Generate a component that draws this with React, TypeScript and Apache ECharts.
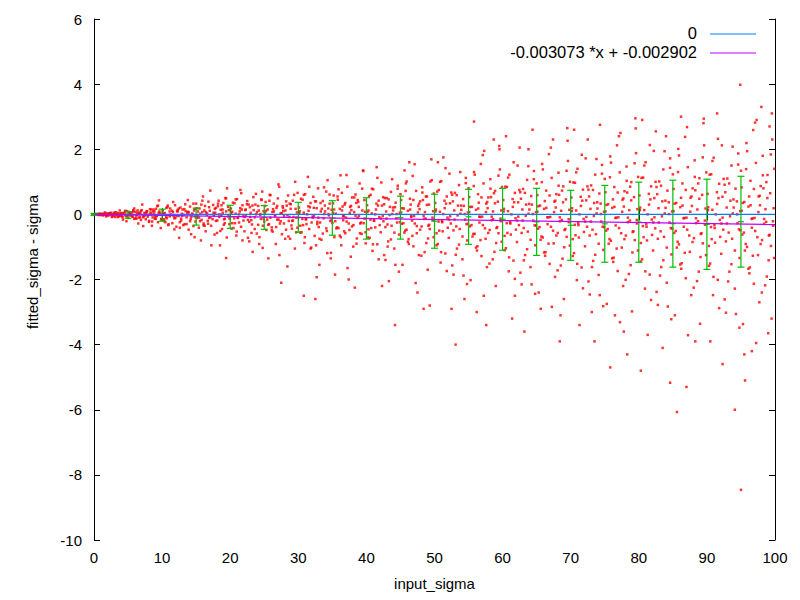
import React, { useEffect, useRef } from "react";
import * as echarts from "echarts";

// scatter points, flat [x, y, x, y, ...] per 10-unit band of input_sigma
const seg00 = [
  0.1,0.00, 0.3,-0.01, 0.5,0.01, 0.7,-0.02, 0.9,0.01, 0.6,0.00,
  1.1,0.02, 1.3,-0.03, 1.5,0.01, 1.7,-0.01, 1.9,0.03, 1.4,-0.02,
  2.1,-0.04, 2.3,0.03, 2.6,0.01, 2.8,-0.06, 2.9,0.05, 2.4,-0.01,
  3.1,0.06, 3.3,-0.02, 3.5,-0.08, 3.6,0.03, 3.8,0.01, 3.9,-0.05,
  4.1,0.04, 4.2,-0.09, 4.5,0.07, 4.6,-0.02, 4.8,0.10, 4.9,-0.06,
  5.0,-0.11, 5.2,0.05, 5.4,0.01, 5.7,-0.07, 5.8,0.09, 5.9,-0.14,
  6.1,0.08, 6.2,-0.04, 6.4,0.12, 6.6,-0.10, 6.8,0.02, 6.9,-0.17,
  7.0,0.13, 7.3,-0.06, 7.4,0.04, 7.6,-0.15, 7.8,0.10, 7.9,-0.02,
  8.1,-0.20, 8.3,0.06, 8.4,0.15, 8.6,-0.09, 8.8,0.01, 8.9,-0.13,
  9.1,0.17, 9.2,-0.05, 9.4,-0.24, 9.6,0.09, 9.7,0.03, 9.9,-0.16,
  8.5,-0.35, 9.8,-0.42, 6.5,-0.28, 9.3,0.25,
  0.2,0.01, 0.8,-0.01, 1.2,0.00, 1.8,-0.03, 2.2,0.02, 2.7,-0.03, 3.2,0.00, 3.7,-0.04,
  4.3,0.02, 4.7,-0.05, 5.3,-0.03, 5.6,0.06, 6.3,0.00, 6.7,0.05, 7.2,-0.09, 7.7,0.06,
  8.2,0.00, 8.7,0.09, 9.0,-0.08, 9.5,0.05,
  0.15,0.00, 0.48,-0.01, 0.81,0.02, 1.14,0.00, 1.47,0.02, 1.80,-0.06, 2.13,0.00, 2.46,0.05, 2.79,-0.02, 3.12,-0.08,
  3.45,0.03, 3.78,0.12, 4.11,-0.05, 4.44,0.02, 4.77,-0.21, 5.10,0.08, 5.43,-0.02, 5.76,0.13, 6.09,-0.12, 6.42,0.05,
  6.75,-0.09, 7.08,0.30, 7.41,-0.04, 7.74,0.09, 8.07,-0.23, 8.40,0.02, 8.73,0.15, 9.06,-0.14, 9.39,0.27, 9.72,-0.01,
  0.30,0.00, 0.63,0.01, 0.96,-0.02, 1.29,0.01, 1.62,0.06, 1.95,-0.01, 2.28,0.03, 2.61,-0.08, 2.94,0.00, 3.27,0.06,
  3.60,-0.06, 3.93,0.03, 4.26,-0.16, 4.59,0.11, 4.92,-0.01, 5.25,0.04, 5.58,-0.06, 5.91,0.18, 6.24,-0.13, 6.57,0.01,
  6.90,0.10, 7.23,-0.36, 7.56,0.04, 7.89,-0.07, 8.22,0.16, 8.55,-0.22, 8.88,0.09, 9.21,-0.04, 9.54,0.43, 9.87,-0.14,
];
const seg10 = [
  10.1,0.12, 10.3,-0.21, 10.4,0.04, 10.6,-0.08, 10.8,0.22, 10.9,-0.33,
  11.0,-0.02, 11.2,0.18, 11.5,-0.27, 11.6,0.07, 11.8,-0.12, 11.9,0.28,
  12.1,-0.38, 12.2,0.10, 12.4,-0.05, 12.7,0.21, 12.8,-0.19, 12.9,0.02,
  13.0,0.15, 13.3,-0.30, 13.4,0.31, 13.6,-0.09, 13.7,0.05, 13.9,-0.47,
  14.1,0.24, 14.2,-0.14, 14.4,0.01, 14.6,-0.36, 14.7,0.12, 14.9,-0.22,
  15.0,0.33, 15.2,-0.06, 15.4,-0.41, 15.5,0.18, 15.8,-0.17, 15.9,0.07,
  16.1,-0.28, 16.3,0.26, 16.4,-0.52, 16.6,0.03, 16.8,0.39, 16.9,-0.11,
  17.0,0.11, 17.2,-0.35, 17.5,0.29, 17.6,-0.04, 17.7,-0.62, 17.9,0.20,
  18.1,-0.19, 18.3,0.42, 18.4,-0.08, 18.6,0.14, 18.8,-0.45, 18.9,0.05,
  19.0,0.35, 19.2,-0.27, 19.4,0.09, 19.5,-0.71, 19.7,0.23, 19.9,-0.13,
  12.5,-0.72, 16.0,0.55, 18.5,-0.95, 19.3,0.50, 15.7,-0.80, 19.4,-1.34,
  10.2,0.00, 10.7,-0.12, 11.1,0.09, 11.7,-0.05, 12.3,0.14, 12.6,-0.24, 13.1,-0.01, 13.8,0.08,
  14.3,-0.07, 14.8,0.17, 15.1,-0.11, 15.6,0.02, 16.2,0.12, 16.7,-0.20, 17.1,-0.09, 17.8,0.05,
  18.2,0.25, 18.7,-0.02, 19.1,-0.15, 19.8,0.13,
];
const seg20 = [
  20.1,0.18, 20.2,-0.44, 20.4,0.36, 20.6,-0.12, 20.8,0.02, 20.9,-0.65,
  21.0,0.47, 21.3,-0.25, 21.4,0.09, 21.6,-0.38, 21.8,0.28, 21.9,-0.06,
  22.1,-0.52, 22.2,0.13, 22.5,0.41, 22.6,-0.17, 22.8,-0.83, 22.9,0.22,
  23.0,0.05, 23.2,-0.31, 23.4,0.53, 23.6,-0.09, 23.7,0.30, 23.9,-0.59,
  24.1,0.26, 24.3,-0.70, 24.4,-0.02, 24.6,0.44, 24.8,-0.35, 24.9,0.10,
  25.0,-0.22, 25.2,0.38, 25.3,-0.48, 25.5,0.15, 25.8,0.60, 25.9,-0.10,
  26.1,-0.40, 26.2,0.07, 26.4,0.33, 26.7,-0.91, 26.8,0.20, 26.9,-0.16,
  27.0,0.49, 27.3,-0.28, 27.4,0.03, 27.6,-0.61, 27.7,0.25, 27.9,-0.05,
  28.1,0.12, 28.2,-0.47, 28.5,0.58, 28.6,-0.20, 28.8,-0.75, 28.9,0.31,
  29.0,-0.34, 29.2,0.42, 29.3,-0.08, 29.6,0.17, 29.7,-0.55, 29.9,0.66,
  21.5,0.75, 23.3,-1.15, 25.6,-1.35, 27.2,0.85, 28.4,-1.60, 29.5,-1.05, 24.7,0.70, 27.5,-2.10,
  20.3,0.08, 20.7,-0.27, 21.1,-0.10, 21.7,0.15, 22.3,-0.03, 22.7,0.30, 23.1,-0.18, 23.8,0.00,
  24.2,0.12, 24.5,-0.14, 25.1,0.04, 25.7,-0.30, 26.3,0.16, 26.6,-0.04, 27.1,-0.16, 27.8,0.10,
  28.3,0.27, 28.7,-0.08, 29.1,-0.20, 29.8,0.06,
];
const seg30 = [
  30.1,0.21, 30.3,-0.56, 30.4,0.48, 30.6,-0.14, 30.8,0.05, 30.9,-0.88,
  31.0,0.62, 31.2,-0.30, 31.5,0.11, 31.6,-0.45, 31.8,0.35, 31.9,-1.02,
  32.1,-0.07, 32.2,0.54, 32.4,-0.66, 32.7,0.19, 32.8,-0.23, 32.9,0.80,
  33.0,-0.39, 33.3,0.09, 33.4,-0.78, 33.6,0.41, 33.7,-0.12, 33.9,0.27,
  34.1,0.70, 34.2,-0.51, 34.5,-0.03, 34.6,0.33, 34.8,-1.18, 34.9,0.14,
  35.0,-0.26, 35.2,0.58, 35.3,-0.70, 35.5,0.02, 35.8,0.45, 35.9,-0.42,
  36.1,0.17, 36.3,-0.95, 36.4,0.66, 36.6,-0.18, 36.8,0.30, 36.9,-0.58,
  37.0,-0.10, 37.2,0.85, 37.5,-0.48, 37.6,0.23, 37.7,-1.30, 37.9,0.52,
  38.1,-0.33, 38.2,0.07, 38.4,0.61, 38.6,-0.74, 38.8,0.38, 38.9,-0.05,
  39.0,0.95, 39.3,-0.60, 39.4,0.12, 39.6,-0.27, 39.7,0.44, 39.9,-0.89,
  31.4,1.15, 33.1,-1.55, 35.4,-1.85, 36.2,1.20, 38.3,-2.25, 39.5,1.35, 32.5,-2.60, 37.4,-2.00, 34.3,1.05, 32.7,-1.93, 30.8,-2.50,
  30.2,0.10, 30.7,-0.33, 31.1,-0.15, 31.7,0.22, 32.3,-0.04, 32.6,0.40, 33.2,-0.25, 33.8,0.01,
  34.4,0.18, 34.7,-0.20, 35.1,0.05, 35.7,-0.40, 36.5,0.24, 36.7,-0.06, 37.1,-0.22, 37.8,0.13,
  38.5,0.35, 38.7,-0.11, 39.1,-0.28, 39.8,0.08,
];
const seg40 = [
  40.1,0.28, 40.2,-0.71, 40.4,0.56, 40.6,-0.16, 40.8,0.03, 40.9,-1.12,
  41.0,0.77, 41.3,-0.40, 41.4,0.15, 41.6,-0.92, 41.8,0.42, 41.9,-0.08,
  42.1,-0.55, 42.2,0.98, 42.5,-0.21, 42.6,0.31, 42.8,-1.40, 42.9,0.09,
  43.0,0.50, 43.2,-0.83, 43.4,-0.02, 43.6,0.69, 43.7,-0.35, 43.9,0.21,
  44.1,-1.05, 44.3,0.36, 44.4,-0.12, 44.6,0.88, 44.8,-0.62, 44.9,0.05,
  45.0,0.62, 45.2,-0.29, 45.3,-1.55, 45.5,0.18, 45.8,0.95, 45.9,-0.47,
  46.1,0.11, 46.2,-0.76, 46.4,0.48, 46.7,-0.19, 46.8,1.18, 46.9,-0.98,
  47.0,-0.05, 47.3,0.72, 47.4,-0.58, 47.6,0.26, 47.7,-1.25, 47.9,0.40,
  48.1,-0.37, 48.2,0.83, 48.5,-0.14, 48.6,0.07, 48.8,-0.88, 48.9,0.55,
  49.0,-1.70, 49.2,0.30, 49.3,-0.45, 49.6,1.05, 49.7,-0.10, 49.9,0.64,
  41.5,1.45, 43.3,-2.05, 44.2,-3.40, 46.3,1.60, 47.5,-2.40, 48.4,-2.90, 42.3,-2.20, 45.6,1.35, 49.3,-2.80,
  40.3,0.12, 40.7,-0.42, 41.1,-0.18, 41.7,0.27, 42.4,-0.05, 42.7,0.50, 43.1,-0.31, 43.8,0.01,
  44.2,0.22, 44.5,-0.25, 45.1,0.06, 45.7,-0.50, 46.5,0.30, 46.6,-0.07, 47.1,-0.28, 47.8,0.16,
  48.3,0.44, 48.7,-0.13, 49.1,-0.35, 49.8,0.10,
];
const seg50 = [
  50.1,0.35, 50.3,-0.95, 50.4,0.70, 50.6,-0.22, 50.8,0.08, 50.9,-1.48,
  51.0,1.02, 51.2,-0.52, 51.5,0.19, 51.6,-1.20, 51.8,0.55, 51.9,-0.10,
  52.1,-0.72, 52.2,1.25, 52.4,-0.28, 52.7,0.40, 52.8,-1.85, 52.9,0.12,
  53.0,0.66, 53.3,-1.05, 53.4,-0.03, 53.6,0.90, 53.7,-0.45, 53.9,0.27,
  54.1,-1.38, 54.2,0.47, 54.5,-0.16, 54.6,1.12, 54.8,-0.80, 54.9,0.06,
  55.0,0.80, 55.2,-0.37, 55.3,-2.02, 55.5,0.23, 55.8,1.30, 55.9,-0.60,
  56.1,0.14, 56.3,-0.98, 56.4,0.62, 56.6,-0.25, 56.8,1.55, 56.9,-1.28,
  57.0,-0.07, 57.2,0.95, 57.5,-0.75, 57.6,0.33, 57.7,-1.62, 57.9,0.52,
  58.1,-0.48, 58.2,1.08, 58.4,-0.18, 58.6,0.09, 58.8,-1.15, 58.9,0.72,
  59.0,-2.20, 59.3,0.39, 59.4,-0.58, 59.6,1.38, 59.7,-0.13, 59.9,0.84,
  53.1,-4.00, 55.8,2.85, 51.3,1.75, 54.4,-2.60, 56.2,-3.00, 57.3,1.95, 57.6,-3.40, 59.5,2.10, 52.5,-2.90, 50.5,1.60, 58.7,2.30,
  50.2,0.15, 50.7,-0.50, 51.1,-0.21, 51.7,0.33, 52.3,-0.06, 52.6,0.60, 53.2,-0.37, 53.8,0.02,
  54.3,0.26, 54.7,-0.30, 55.1,0.07, 55.7,-0.60, 56.5,0.36, 56.7,-0.08, 57.1,-0.33, 57.8,0.19,
  58.3,0.53, 58.6,-0.15, 59.1,-0.42, 59.8,0.12,
];
const seg60 = [
  60.1,0.44, 60.3,-1.10, 60.4,0.85, 60.6,-0.27, 60.8,0.10, 60.9,-1.75,
  61.0,1.22, 61.2,-0.62, 61.5,0.23, 61.6,-1.42, 61.8,0.66, 61.9,-0.12,
  62.1,-0.85, 62.2,1.50, 62.4,-0.33, 62.7,0.48, 62.8,-2.15, 62.9,0.15,
  63.0,0.78, 63.3,-1.25, 63.4,-0.04, 63.6,1.06, 63.7,-0.53, 63.9,0.32,
  64.1,-1.62, 64.2,0.56, 64.5,-0.19, 64.6,1.33, 64.8,-0.95, 64.9,0.07,
  65.0,0.95, 65.2,-0.44, 65.3,-2.40, 65.5,0.27, 65.8,1.55, 65.9,-0.71,
  66.1,0.17, 66.3,-1.16, 66.4,0.73, 66.6,-0.30, 66.8,1.85, 66.9,-1.52,
  67.0,-0.08, 67.2,1.12, 67.5,-0.89, 67.6,0.39, 67.7,-1.92, 67.9,0.62,
  68.1,-0.57, 68.2,1.28, 68.4,-0.21, 68.6,0.11, 68.8,-1.36, 68.9,0.86,
  69.0,-2.60, 69.3,0.46, 69.4,-0.69, 69.6,1.64, 69.7,-0.15, 69.9,1.00,
  60.5,2.40, 61.4,-3.20, 62.5,2.05, 63.2,-3.60, 64.4,2.60, 65.6,-2.90, 68.4,-3.90, 67.4,2.30, 68.5,-3.10, 69.5,2.65, 61.8,-2.50, 63.8,2.00,
  60.2,0.17, 60.7,-0.57, 61.1,-0.24, 61.7,0.37, 62.3,-0.07, 62.6,0.68, 63.1,-0.42, 63.8,0.02,
  64.3,0.30, 64.7,-0.34, 65.1,0.08, 65.7,-0.68, 66.2,0.41, 66.7,-0.09, 67.1,-0.38, 67.8,0.21,
  68.3,0.60, 68.7,-0.17, 69.1,-0.48, 69.8,0.14,
];
const seg70 = [
  70.1,0.52, 70.3,-1.28, 70.4,0.98, 70.6,-0.32, 70.8,0.12, 70.9,-2.02,
  71.0,1.40, 71.2,-0.71, 71.5,0.26, 71.6,-1.63, 71.8,0.76, 71.9,-0.14,
  72.1,-0.98, 72.2,1.72, 72.4,-0.38, 72.7,0.55, 72.8,-2.46, 72.9,0.17,
  73.0,0.89, 73.3,-1.43, 73.4,-0.05, 73.6,1.22, 73.7,-0.61, 73.9,0.37,
  74.1,-1.86, 74.2,0.64, 74.5,-0.22, 74.6,1.52, 74.8,-1.09, 74.9,0.08,
  75.0,1.09, 75.2,-0.50, 75.3,-2.75, 75.5,0.31, 75.8,1.78, 75.9,-0.81,
  76.1,0.20, 76.3,-1.33, 76.4,0.84, 76.6,-0.34, 76.8,2.12, 76.9,-1.74,
  77.0,-0.09, 77.2,1.29, 77.5,-1.02, 77.6,0.45, 77.7,-2.20, 77.9,0.71,
  78.1,-0.65, 78.2,1.47, 78.4,-0.24, 78.6,0.13, 78.8,-1.56, 78.9,0.99,
  79.0,-2.98, 79.3,0.53, 79.4,-0.79, 79.6,1.88, 79.7,-0.17, 79.9,1.15,
  75.8,-4.70, 70.5,2.60, 71.3,-3.40, 72.5,2.30, 73.5,-3.90, 74.3,2.75, 76.5,-3.10, 77.3,2.50, 78.3,-4.30, 79.5,2.95, 73.1,-3.00, 77.8,-3.60,
  70.2,0.19, 70.7,-0.64, 71.1,-0.27, 71.7,0.42, 72.3,-0.08, 72.6,0.76, 73.2,-0.47, 73.8,0.03,
  74.4,0.33, 74.7,-0.38, 75.1,0.09, 75.7,-0.76, 76.2,0.46, 76.7,-0.10, 77.1,-0.42, 77.8,0.24,
  78.3,0.67, 78.7,-0.19, 79.1,-0.54, 79.8,0.16,
];
const seg80 = [
  80.1,0.58, 80.3,-1.45, 80.4,1.12, 80.6,-0.36, 80.8,0.13, 80.9,-2.28,
  81.0,1.60, 81.2,-0.80, 81.5,0.30, 81.6,-1.85, 81.8,0.86, 81.9,-0.16,
  82.1,-1.11, 82.2,1.95, 82.4,-0.43, 82.7,0.62, 82.8,-2.78, 82.9,0.19,
  83.0,1.01, 83.3,-1.62, 83.4,-0.06, 83.6,1.38, 83.7,-0.69, 83.9,0.42,
  84.1,-2.10, 84.2,0.73, 84.5,-0.25, 84.6,1.72, 84.8,-1.23, 84.9,0.09,
  85.0,1.23, 85.2,-0.57, 85.3,-3.10, 85.5,0.35, 85.8,2.01, 85.9,-0.92,
  86.1,0.22, 86.3,-1.50, 86.4,0.95, 86.6,-0.38, 86.8,2.38, 86.9,-1.96,
  87.0,-0.10, 87.2,1.45, 87.5,-1.15, 87.6,0.51, 87.7,-2.48, 87.9,0.80,
  88.1,-0.73, 88.2,1.66, 88.4,-0.27, 88.6,0.15, 88.8,-1.76, 88.9,1.11,
  89.0,-3.36, 89.3,0.60, 89.4,-0.89, 89.6,2.12, 89.7,-0.19, 89.9,1.29,
  85.6,-6.07, 84.6,-5.17, 87.0,-5.30, 80.5,2.90, 81.3,-3.70, 82.5,2.55, 83.5,-4.10, 86.2,3.00, 88.3,-3.90, 89.5,2.80, 80.3,-4.80, 84.0,2.40,
  80.2,0.21, 80.7,-0.70, 81.1,-0.30, 81.7,0.46, 82.3,-0.09, 82.6,0.84, 83.2,-0.52, 83.8,0.03,
  84.4,0.37, 84.7,-0.42, 85.1,0.10, 85.7,-0.84, 86.2,0.51, 86.7,-0.11, 87.1,-0.47, 87.8,0.26,
  88.3,0.74, 88.7,-0.21, 89.1,-0.60, 89.8,0.18,
];
const seg90 = [
  90.1,0.63, 90.3,-1.58, 90.4,1.22, 90.6,-0.39, 90.8,0.14, 90.9,-2.48,
  91.0,1.74, 91.2,-0.87, 91.5,0.32, 91.6,-2.01, 91.8,0.94, 91.9,-0.17,
  92.1,-1.21, 92.2,2.12, 92.4,-0.47, 92.7,0.68, 92.8,-3.02, 92.9,0.21,
  93.0,1.10, 93.3,-1.76, 93.4,-0.06, 93.6,1.50, 93.7,-0.75, 93.9,0.46,
  94.1,-2.28, 94.2,0.79, 94.5,-0.27, 94.6,1.87, 94.8,-1.34, 94.9,0.10,
  95.0,1.34, 95.2,-0.62, 95.3,-3.37, 95.5,0.38, 95.8,2.19, 95.9,-1.00,
  96.1,0.24, 96.3,-1.63, 96.4,1.03, 96.6,-0.41, 96.8,2.59, 96.9,-2.13,
  97.0,-0.11, 97.2,1.58, 97.5,-1.25, 97.6,0.55, 97.7,-2.70, 97.9,0.87,
  98.1,-0.79, 98.2,1.80, 98.4,-0.29, 98.6,0.16, 98.8,-1.91, 98.9,1.21,
  99.0,-3.65, 99.3,0.65, 99.4,-0.97, 99.6,2.30, 99.7,-0.21, 99.9,1.40,
  95.0,-8.46, 94.9,3.98, 98.0,3.30, 94.1,-6.00, 95.5,-4.30, 91.5,3.10, 92.3,-4.60, 95.6,-5.10, 97.3,2.90, 99.5,-3.20, 90.5,-3.90, 96.6,-4.20, 99.2,2.70,
  90.2,0.22, 90.7,-0.76, 91.1,-0.33, 91.7,0.50, 92.3,-0.10, 92.6,0.91, 93.2,-0.56, 93.8,0.03,
  94.4,0.40, 94.7,-0.46, 95.1,0.11, 95.7,-0.91, 96.2,0.55, 96.7,-0.12, 97.1,-0.51, 97.8,0.28,
  98.3,0.80, 98.7,-0.23, 99.1,-0.65, 99.8,0.19,
];

// extra dense layers: x = band start + offset, y read per band
const offA = [0.15, 0.48, 0.81, 1.14, 1.47, 1.80, 2.13, 2.46, 2.79, 3.12, 3.45, 3.78, 4.11, 4.44, 4.77, 5.10, 5.43, 5.76, 6.09, 6.42, 6.75, 7.08, 7.41, 7.74, 8.07, 8.40, 8.73, 9.06, 9.39, 9.72];
const offB = [0.30, 0.63, 0.96, 1.29, 1.62, 1.95, 2.28, 2.61, 2.94, 3.27, 3.60, 3.93, 4.26, 4.59, 4.92, 5.25, 5.58, 5.91, 6.24, 6.57, 6.90, 7.23, 7.56, 7.89, 8.22, 8.55, 8.88, 9.21, 9.54, 9.87];
const yA10 = [0.03, -0.24, 0.27, -0.06, 0.11, -0.46, -0.04, 0.18, -0.13, -0.33, 0.10, 0.44, -0.21, 0.02, -0.70, 0.19, -0.10, 0.30, -0.33, 0.07, -0.29, 0.73, -0.15, 0.17, -0.57, 0.00, 0.28, -0.32, 0.49, -0.06];
const yB10 = [-0.15, 0.20, -0.30, 0.00, 0.38, -0.11, 0.09, -0.41, -0.04, 0.16, -0.30, 0.06, -0.61, 0.33, -0.08, 0.09, -0.21, 0.42, -0.35, -0.01, 0.22, -0.95, 0.05, -0.20, 0.33, -0.51, 0.15, -0.13, 0.80, -0.30];
const yA20 = [0.04, -0.42, 0.46, -0.11, 0.19, -0.80, -0.08, 0.31, -0.23, -0.57, 0.13, 0.63, -0.32, 0.01, -1.03, 0.26, -0.16, 0.42, -0.49, 0.09, -0.39, 0.92, -0.21, 0.20, -0.75, -0.03, 0.33, -0.44, 0.60, -0.10];
const yB20 = [-0.27, 0.34, -0.53, 0.00, 0.65, -0.19, 0.15, -0.72, -0.08, 0.27, -0.45, 0.07, -0.91, 0.46, -0.14, 0.11, -0.32, 0.59, -0.53, -0.03, 0.26, -1.25, 0.04, -0.28, 0.40, -0.68, 0.17, -0.19, 1.00, -0.41];
const yA30 = [0.05, -0.55, 0.60, -0.15, 0.25, -1.05, -0.10, 0.40, -0.30, -0.75, 0.17, 0.83, -0.43, 0.01, -1.35, 0.34, -0.21, 0.55, -0.65, 0.12, -0.52, 1.21, -0.28, 0.26, -0.99, -0.04, 0.44, -0.58, 0.79, -0.13];
const yB30 = [-0.35, 0.45, -0.70, 0.00, 0.85, -0.25, 0.20, -0.95, -0.10, 0.35, -0.59, 0.09, -1.19, 0.61, -0.18, 0.15, -0.43, 0.77, -0.70, -0.05, 0.35, -1.65, 0.05, -0.37, 0.52, -0.90, 0.23, -0.25, 1.33, -0.55];
const yA40 = [0.07, -0.72, 0.79, -0.20, 0.33, -1.38, -0.13, 0.53, -0.39, -0.99, 0.23, 1.08, -0.56, 0.01, -1.76, 0.44, -0.27, 0.72, -0.84, 0.15, -0.66, 1.54, -0.36, 0.33, -1.27, -0.05, 0.55, -0.74, 1.01, -0.17];
const yB40 = [-0.46, 0.60, -0.92, 0.00, 1.12, -0.33, 0.27, -1.25, -0.13, 0.46, -0.77, 0.12, -1.55, 0.79, -0.24, 0.19, -0.56, 1.01, -0.91, -0.06, 0.44, -2.11, 0.06, -0.47, 0.67, -1.16, 0.29, -0.32, 1.69, -0.70];
const yA50 = [0.09, -0.91, 1.00, -0.24, 0.42, -1.74, -0.16, 0.67, -0.49, -1.24, 0.27, 1.30, -0.68, 0.01, -2.14, 0.53, -0.33, 0.87, -1.02, 0.18, -0.79, 1.82, -0.43, 0.38, -1.51, -0.07, 0.65, -0.88, 1.19, -0.21];
const yB50 = [-0.58, 0.75, -1.16, 0.01, 1.42, -0.41, 0.34, -1.57, -0.16, 0.59, -0.93, 0.14, -1.88, 0.96, -0.29, 0.23, -0.68, 1.22, -1.11, -0.07, 0.52, -2.50, 0.07, -0.57, 0.79, -1.38, 0.34, -0.39, 2.00, -0.84];
const yA60 = [0.09, -1.04, 1.13, -0.28, 0.47, -1.98, -0.19, 0.75, -0.57, -1.41, 0.30, 1.48, -0.78, 0.01, -2.44, 0.59, -0.39, 0.99, -1.17, 0.20, -0.90, 2.05, -0.50, 0.42, -1.72, -0.09, 0.73, -1.01, 1.34, -0.24];
const yB60 = [-0.66, 0.84, -1.32, 0.00, 1.60, -0.47, 0.37, -1.79, -0.19, 0.66, -1.07, 0.15, -2.15, 1.08, -0.34, 0.25, -0.78, 1.38, -1.27, -0.09, 0.58, -2.84, 0.07, -0.65, 0.88, -1.57, 0.37, -0.45, 2.26, -0.96];
const yA70 = [0.10, -1.19, 1.29, -0.33, 0.54, -2.27, -0.22, 0.86, -0.65, -1.62, 0.35, 1.70, -0.90, 0.01, -2.82, 0.68, -0.45, 1.14, -1.35, 0.23, -1.05, 2.40, -0.58, 0.49, -2.01, -0.10, 0.85, -1.17, 1.57, -0.28];
const yB70 = [-0.76, 0.97, -1.52, 0.00, 1.83, -0.54, 0.43, -2.06, -0.22, 0.75, -1.24, 0.18, -2.48, 1.25, -0.39, 0.29, -0.90, 1.59, -1.46, -0.11, 0.67, -3.31, 0.08, -0.76, 1.03, -1.83, 0.43, -0.52, 2.64, -1.11];
const yA80 = [0.13, -1.38, 1.50, -0.38, 0.63, -2.63, -0.25, 1.00, -0.75, -1.88, 0.40, 1.94, -1.02, 0.01, -3.22, 0.78, -0.51, 1.30, -1.54, 0.27, -1.18, 2.68, -0.65, 0.55, -2.25, -0.12, 0.95, -1.31, 1.75, -0.32];
const yB80 = [-0.88, 1.13, -1.75, 0.00, 2.13, -0.63, 0.50, -2.38, -0.25, 0.88, -1.41, 0.20, -2.83, 1.43, -0.44, 0.33, -1.02, 1.81, -1.67, -0.12, 0.75, -3.71, 0.08, -0.85, 1.15, -2.05, 0.48, -0.58, 2.94, -1.25];
const yA90 = [0.13, -1.51, 1.64, -0.42, 0.68, -2.88, -0.28, 1.09, -0.83, -2.06, 0.42, 2.08, -1.11, 0.00, -3.48, 0.83, -0.56, 1.39, -1.67, 0.28, -1.27, 2.82, -0.70, 0.57, -2.40, -0.14, 0.99, -1.41, 1.84, -0.35];
const yB90 = [-0.97, 1.23, -1.92, 0.00, 2.32, -0.69, 0.54, -2.61, -0.28, 0.95, -1.53, 0.21, -3.06, 1.53, -0.49, 0.35, -1.11, 1.94, -1.81, -0.14, 0.78, -3.95, 0.07, -0.91, 1.20, -2.18, 0.50, -0.63, 3.10, -1.34];

// binned error bars (mean with low/high)
const barX = [0, 5, 10, 15, 20, 25, 30, 35, 40, 45, 50, 55, 60, 65, 70, 75, 80, 85, 90, 95];
const barLow = [-0.035, -0.12, -0.21, -0.33, -0.43, -0.46, -0.55, -0.64, -0.76, -0.76, -1.04, -0.92, -1.10, -1.26, -1.41, -1.47, -1.47, -1.62, -1.69, -1.62];
const barHigh = [0.03, 0.08, 0.16, 0.19, 0.28, 0.27, 0.37, 0.42, 0.51, 0.56, 0.62, 0.77, 0.80, 0.80, 0.74, 0.89, 0.99, 1.05, 1.08, 1.17];
const barMean = [-0.003, -0.02, -0.025, -0.07, -0.075, -0.095, -0.09, -0.11, -0.125, -0.10, -0.21, -0.075, -0.15, -0.23, -0.335, -0.29, -0.24, -0.285, -0.305, -0.225];

// reference lines
const zeroLine = [[0, 0], [100, 0]];
const fitLine = [[0, -0.002902], [100, -0.310202]];
const legendNames = ["0", "-0.003073 *x + -0.002902"];
const xTitle = "input_sigma";
const yTitle = "fitted_sigma - sigma";

const FONT = "'Liberation Sans', Arial, sans-serif";
const RED = "#ff0000";
const GREEN = "#00c000";
const BLUE = "#0080ff";
const PURPLE = "#c000ff";

function pairs(flat: number[]): number[][] {
  const out: number[][] = [];
  for (let i = 0; i + 1 < flat.length; i += 2) out.push([flat[i], flat[i + 1]]);
  return out;
}
function layer(start: number, offs: number[], ys: number[]): number[][] {
  return ys.map((y, i) => [start + offs[i], y]);
}

export default function App() {
  const ref = useRef<HTMLDivElement>(null);
  useEffect(() => {
    if (!ref.current) return;
    const chart = echarts.init(ref.current, undefined, { renderer: "svg" });
    const scatterData = [
      ...[seg00, seg10, seg20, seg30, seg40, seg50, seg60, seg70, seg80, seg90].flatMap(pairs),
      ...layer(10, offA, yA10), ...layer(10, offB, yB10),
      ...layer(20, offA, yA20), ...layer(20, offB, yB20),
      ...layer(30, offA, yA30), ...layer(30, offB, yB30),
      ...layer(40, offA, yA40), ...layer(40, offB, yB40),
      ...layer(50, offA, yA50), ...layer(50, offB, yB50),
      ...layer(60, offA, yA60), ...layer(60, offB, yB60),
      ...layer(70, offA, yA70), ...layer(70, offB, yB70),
      ...layer(80, offA, yA80), ...layer(80, offB, yB80),
      ...layer(90, offA, yA90), ...layer(90, offB, yB90),
    ];
    const barData = barX.map((x, i) => [x, barLow[i], barHigh[i], barMean[i]]);
    const axisLine = { lineStyle: { color: "#000", width: 1 } };
    const tick = { inside: true, length: 6, lineStyle: { color: "#000", width: 1 } };
    const label = { color: "#000", fontSize: 15, fontFamily: FONT };
    chart.setOption({
      animation: false,
      backgroundColor: "#fff",
      grid: { left: 94, right: 25, top: 19, bottom: 60, containLabel: false },
      xAxis: [
        {
          type: "value", min: 0, max: 100, interval: 10, position: "bottom",
          name: xTitle, nameLocation: "middle", nameGap: 36,
          nameTextStyle: { color: "#000", fontSize: 15, fontFamily: FONT },
          axisLine: { show: true, ...axisLine }, axisTick: tick,
          axisLabel: { ...label, margin: 10 }, splitLine: { show: false },
        },
        {
          type: "value", min: 0, max: 100, interval: 10, position: "top",
          axisLine: { show: true, ...axisLine }, axisTick: tick,
          axisLabel: { show: false }, splitLine: { show: false },
        },
      ],
      yAxis: [
        {
          type: "value", min: -10, max: 6, interval: 2, position: "left",
          axisLine: { show: true, onZero: false, ...axisLine }, axisTick: tick,
          axisLabel: { ...label, margin: 12 }, splitLine: { show: false },
        },
        {
          type: "value", min: -10, max: 6, interval: 2, position: "right",
          axisLine: { show: true, onZero: false, ...axisLine }, axisTick: tick,
          axisLabel: { show: false }, splitLine: { show: false },
        },
      ],
      series: [
        {
          type: "scatter", name: "data", data: scatterData, symbol: "rect", symbolSize: 2.5,
          itemStyle: { color: RED }, z: 1, silent: true,
        },
        {
          type: "custom", name: "bins", data: barData, z: 2, silent: true,
          encode: { x: 0, y: [1, 2, 3] },
          renderItem: (_params: any, api: any) => {
            const x = api.value(0);
            const pLo = api.coord([x, api.value(1)]);
            const pHi = api.coord([x, api.value(2)]);
            const pM = api.coord([x, api.value(3)]);
            const cap = 3.5;
            const style = { stroke: GREEN, lineWidth: 1.2, fill: "none" };
            return {
              type: "group",
              children: [
                { type: "line", shape: { x1: pLo[0], y1: pLo[1], x2: pHi[0], y2: pHi[1] }, style },
                { type: "line", shape: { x1: pLo[0] - cap, y1: pLo[1], x2: pLo[0] + cap, y2: pLo[1] }, style },
                { type: "line", shape: { x1: pHi[0] - cap, y1: pHi[1], x2: pHi[0] + cap, y2: pHi[1] }, style },
                { type: "line", shape: { x1: pM[0] - 3, y1: pM[1], x2: pM[0] + 3, y2: pM[1] }, style },
              ],
            };
          },
        },
        {
          type: "line", name: legendNames[0], data: zeroLine, showSymbol: false, z: 3, silent: true,
          lineStyle: { color: BLUE, width: 1.3 },
        },
        {
          type: "line", name: legendNames[1], data: fitLine, showSymbol: false, z: 3, silent: true,
          lineStyle: { color: PURPLE, width: 1.3 },
        },
      ],
      graphic: [
        { type: "text", x: 32, y: 262, rotation: Math.PI / 2, style: { text: yTitle, fill: "#000", font: `15px ${FONT}`, textAlign: "center", textVerticalAlign: "middle" } },
        { type: "text", x: 697, y: 33, style: { text: legendNames[0], fill: "#000", font: `16.5px ${FONT}`, textAlign: "right", textVerticalAlign: "middle" } },
        { type: "line", shape: { x1: 710, y1: 34, x2: 756, y2: 34 }, style: { stroke: BLUE, lineWidth: 1 } },
        { type: "text", x: 697, y: 52, style: { text: legendNames[1], fill: "#000", font: `16.5px ${FONT}`, textAlign: "right", textVerticalAlign: "middle" } },
        { type: "line", shape: { x1: 710, y1: 53, x2: 756, y2: 53 }, style: { stroke: PURPLE, lineWidth: 1 } },
      ],
    });
    return () => chart.dispose();
  }, []);
  return <div ref={ref} style={{ position: "fixed", left: 0, top: 0, width: 800, height: 600 }} />;
}
